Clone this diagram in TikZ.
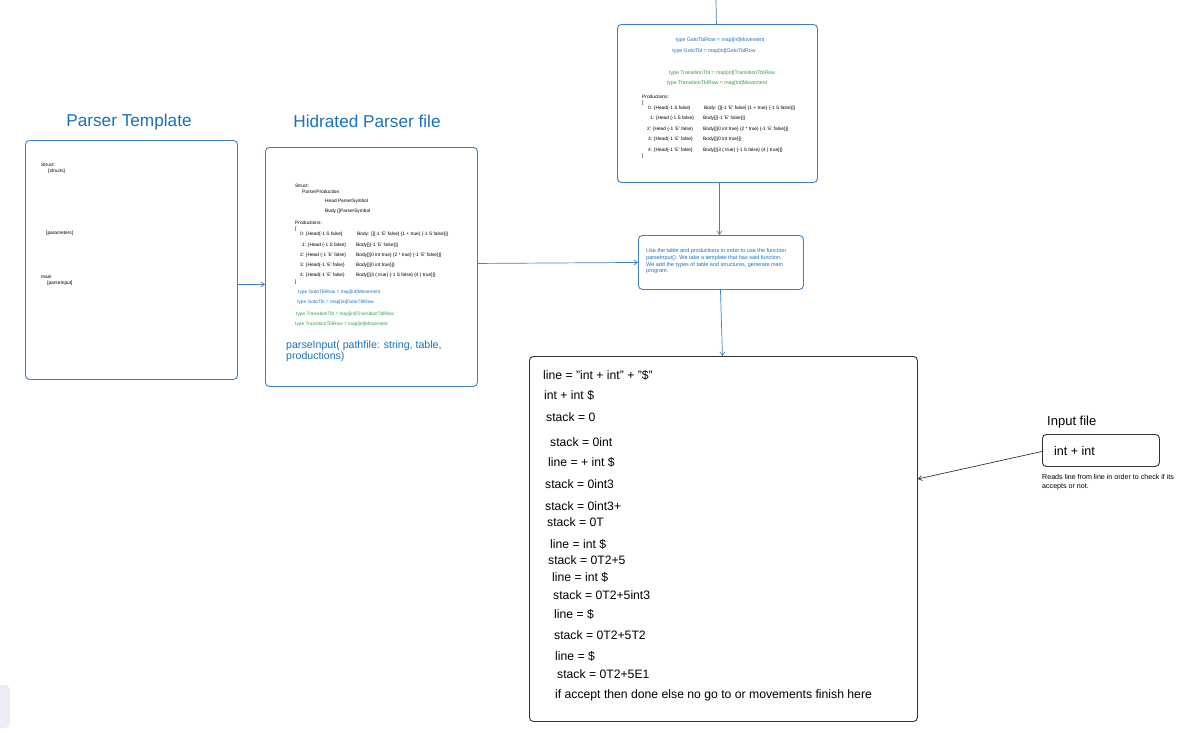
\documentclass[tikz,border=0pt]{standalone}
\usepackage{fontspec}
\setmainfont{Liberation Sans}
\usetikzlibrary{arrows.meta}
\definecolor{exblue}{HTML}{1971C2}
\definecolor{exgreen}{HTML}{2F9E44}
\definecolor{boxblue}{HTML}{3B82CC}
\definecolor{ghost}{HTML}{ECECF4}
\begin{document}
\begin{tikzpicture}[x=1pt,y=-1pt,
  tiny/.style={font=\fontsize{4.8}{5.5}\selectfont, anchor=west, inner sep=0pt},
  tinyb/.style={tiny, text=exblue},
  tinyg/.style={tiny, text=exgreen},
  tinyc/.style={font=\fontsize{5.2}{6}\selectfont, inner sep=0pt},
  midtxt/.style={font=\fontsize{5.5}{6.5}\selectfont, anchor=west, inner sep=0pt, text=exblue},
  bigtxt/.style={font=\fontsize{12.2}{14}\selectfont, anchor=west, inner sep=0pt},
  title/.style={font=\fontsize{17.2}{19}\selectfont, text=exblue, inner sep=0pt},
  bbox/.style={draw=boxblue, rounded corners=4pt, line width=0.9pt, anchor=north west, inner sep=0pt},
  kbox/.style={draw=black!80, rounded corners=4pt, line width=0.9pt, anchor=north west, inner sep=0pt},
  arr/.style={-{Straight Barb[length=3.5pt,width=5pt]}, line width=0.7pt},
  barr/.style={arr, draw=boxblue},
  karr/.style={arr, draw=black!80}]
\useasboundingbox (0,0) rectangle (1203,732);
\fill[white] (0,0) rectangle (1203,732);
\fill[ghost, rounded corners=5pt] (-6,685) rectangle (10,728);

% Parser template
\node[title] (tptitle) at (129,122) {Parser Template};
\node[bbox, minimum width=212pt, minimum height=239pt] (pt) at (25,140) {};
\node[tiny] (pt1) at (41,165) {Struct:};
\node[tiny] (pt2) at (48,171) {[structs]};
\node[tiny] (pt3) at (46,233) {[parameters]};
\node[tiny] (pt4) at (41,277) {main};
\node[tiny] (pt5) at (47,283) {[parseInput]};

% Hidrated parser file
\node[title] (hptitle) at (367,121) {Hidrated Parser file};
\node[bbox, minimum width=212pt, minimum height=239pt] (hp) at (265,147) {};
\node[tiny] (h1) at (295,186) {Struct:};
\node[tiny] (h2) at (302,192) {ParserProduction};
\node[tiny] (h3) at (325,201) {Head ParserSymbol};
\node[tiny] (h4) at (325,211) {Body []ParserSymbol};
\node[tiny] (h5) at (295,223) {Productions:};
\node[tiny] (h6) at (295,229) {[};
\node[tiny] (h7a) at (300,234) {0: \{Head\{-1 S false\}};
\node[tiny] (h7b) at (357,234) {Body: []\{-1 'E' false\} \{1 + true\} \{-1 S false\}]\}};
\node[tiny] (h8a) at (302,245) {1: \{Head \{-1 S false\}};
\node[tiny] (h8b) at (356,245) {Body[]\{-1 'E' false\}]\}};
\node[tiny] (h9a) at (300,255) {2: \{Head \{-1 'E' false\}};
\node[tiny] (h9b) at (356,255) {Body[]\{0 int true\} \{2 * true\} \{-1 'E' false\}]\}};
\node[tiny] (h10a) at (300,265) {3: \{Head\{-1 'E' false\}};
\node[tiny] (h10b) at (356,265) {Body[]\{0 int true\}]\}};
\node[tiny] (h11a) at (300,275) {4: \{Head\{-1 'E' false\}};
\node[tiny] (h11b) at (356,275) {Body[]\{3 ( true\} \{-1 S false\} \{4 ) true\}]\}};
\node[tiny] (h12) at (295,282) {]};
\node[tinyb] (h13) at (298,292) {type GotoTblRow = map[int]Movement};
\node[tinyb] (h14) at (297,302) {type GotoTbl = map[int]GotoTblRow};
\node[tinyg] (h15) at (296,314) {type TransitionTbl = map[int]TransitionTblRow};
\node[tinyg] (h16) at (295,324) {type TransitionTblRow = map[int]Movement};
\node[font=\fontsize{10.6}{12}\selectfont, text=exblue, anchor=west, inner sep=0pt] (h17) at (286,346) {parseInput( pathfile: string, table,};
\node[font=\fontsize{10.6}{12}\selectfont, text=exblue, anchor=west, inner sep=0pt] (h18) at (286,357) {productions)};

% Top box
\coordinate (topin) at (716,0);
\node[bbox, minimum width=200pt, minimum height=158pt] (tb) at (617,24) {};
\node[tinyc, text=exblue] (t1) at (720,40) {type GotoTblRow = map[int]Movement};
\node[tinyc, text=exblue] (t2) at (714,51) {type GotoTbl = map[int]GotoTblRow};
\node[tinyc, text=exgreen] (t3) at (722,73) {type TransitionTbl = map[int]TransitionTblRow};
\node[tinyc, text=exgreen] (t4) at (717,83) {type TransitionTblRow = map[int]Movement};
\node[tiny] (t5) at (642,97) {Productions:};
\node[tiny] (t6) at (642,103) {[};
\node[tiny] (t7a) at (648,108) {0: \{Head\{-1 S false\}};
\node[tiny] (t7b) at (704,108) {Body: []\{-1 'E' false\} \{1 + true\} \{-1 S false\}]\}};
\node[tiny] (t8a) at (650,118) {1: \{Head \{-1 S false\}};
\node[tiny] (t8b) at (703,118) {Body[]\{-1 'E' false\}]\}};
\node[tiny] (t9a) at (647,129) {2: \{Head \{-1 'E' false\}};
\node[tiny] (t9b) at (703,129) {Body[]\{0 int true\} \{2 * true\} \{-1 'E' false\}]\}};
\node[tiny] (t10a) at (648,139) {3: \{Head\{-1 'E' false\}};
\node[tiny] (t10b) at (703,139) {Body[]\{0 int true\}]\}};
\node[tiny] (t11a) at (648,150) {4: \{Head\{-1 'E' false\}};
\node[tiny] (t11b) at (703,150) {Body[]\{3 ( true\} \{-1 S false\} \{4 ) true\}]\}};
\node[tiny] (t12) at (642,156) {]};

% Middle box
\node[bbox, minimum width=165pt, minimum height=54pt] (mid) at (638,235) {};
\node[midtxt] (m1) at (646,251) {Use the table and productions in order to use the function};
\node[midtxt] (m2) at (646,258) {parseInput(). We take a template that has said function.};
\node[midtxt] (m3) at (646,265) {We add the types of table and structures, generate main};
\node[midtxt] (m4) at (646,271.5) {program.};

% Big box
\node[kbox, minimum width=388pt, minimum height=365pt] (big) at (529,356) {};
\node[bigtxt] (b1) at (543,375) {line = "int + int" + "\$"};
\node[bigtxt] (b2) at (544,395) {int + int \$};
\node[bigtxt] (b3) at (546,417) {stack = 0};
\node[bigtxt] (b4) at (550,442) {stack = 0int};
\node[bigtxt] (b5) at (548,462) {line = + int \$};
\node[bigtxt] (b6) at (545,484) {stack = 0int3};
\node[bigtxt] (b7) at (545,506) {stack = 0int3+};
\node[bigtxt] (b8) at (547,522) {stack = 0T};
\node[bigtxt] (b9) at (550,544) {line = int \$};
\node[bigtxt] (b10) at (548,560) {stack = 0T2+5};
\node[bigtxt] (b11) at (552,577) {line = int \$};
\node[bigtxt] (b12) at (553,595) {stack = 0T2+5int3};
\node[bigtxt] (b13) at (554,614) {line = \$};
\node[bigtxt] (b14) at (554,635) {stack = 0T2+5T2};
\node[bigtxt] (b15) at (555,656) {line = \$};
\node[bigtxt] (b16) at (557,674) {stack = 0T2+5E1};
\node[bigtxt] (b17) at (555,695) {if accept then done else no go to or movements finish here};

% Input file
\node[font=\fontsize{13}{15}\selectfont, anchor=west, inner sep=0pt] (inptitle) at (1047,422) {Input file};
\node[kbox, minimum width=117pt, minimum height=32pt] (inp) at (1042,434) {};
\node[font=\fontsize{12.5}{14}\selectfont, anchor=west, inner sep=0pt] (inptxt) at (1054,451) {int + int};
\node[tiny, font=\fontsize{7.1}{8}\selectfont] (n1) at (1042,477) {Reads line from line in order to check if its};
\node[tiny, font=\fontsize{7.1}{8}\selectfont] (n2) at (1042,487) {accepts or not.};

% Connectors
\draw[barr] ([yshift=-24.5pt]pt.east) -- ([yshift=-17.5pt]hp.west);
\draw[barr] ([yshift=3.5pt]hp.east) -- (mid.west);
\draw[draw=boxblue, line width=0.7pt] (topin) -- ([xshift=-1pt]tb.north);
\draw[barr] ([xshift=2pt]tb.south) -- ([xshift=-1.5pt]mid.north);
\draw[barr] ([xshift=-0.5pt]mid.south) -- ([xshift=-1pt]big.north);
\draw[karr] ([yshift=-1pt]inp.west) -- ([yshift=60pt]big.east);
\end{tikzpicture}
\end{document}
